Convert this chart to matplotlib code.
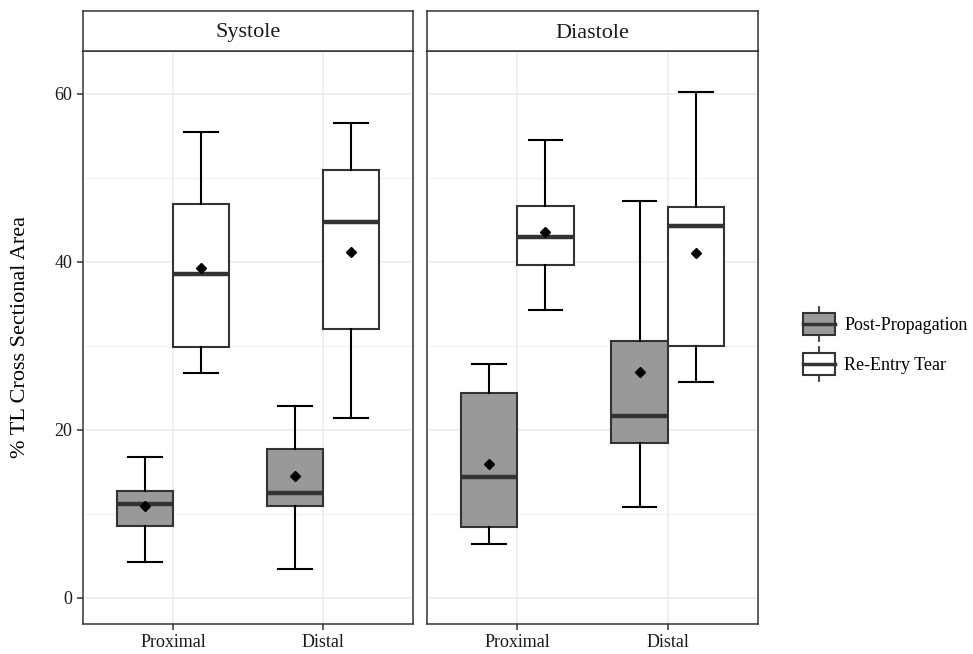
import matplotlib.pyplot as plt
from matplotlib.patches import Rectangle
from matplotlib.lines import Line2D
from matplotlib.legend_handler import HandlerBase

plt.rcParams['font.family'] = ['Liberation Serif', 'DejaVu Serif']

# данные
phases = ['Systole', 'Diastole']
locations = ['Proximal', 'Distal']
groups = ['Post-Propagation', 'Re-Entry Tear']
fills = ['#999999', '#ffffff']

# порядок: для каждой фазы -> группа -> локация (Proximal, Distal)
whislo = [4.3, 3.4, 26.8, 21.4,   6.4, 10.8, 34.3, 25.7]
q1     = [8.6, 10.95, 29.9, 32.0, 8.45, 18.5, 39.6, 30.0]
med    = [11.2, 12.5, 38.6, 44.7, 14.4, 21.7, 43.0, 44.3]
q3     = [12.7, 17.7, 46.9, 50.9, 24.4, 30.6, 46.7, 46.5]
whishi = [16.75, 22.8, 55.4, 56.5, 27.9, 47.2, 54.5, 60.2]
means  = [10.9, 14.5, 39.25, 41.2, 16.0, 26.9, 43.5, 41.0]

yticks = [0, 20, 40, 60]
yminor = [10, 30, 50]

W, H = 973, 654
edge = '#333333'
grid_c = '#ebebeb'


def fx(px):
    return px / W


def fy(py):
    return 1 - py / H


class BoxKeyHandler(HandlerBase):
    # маленький боксплот в легенде, как у ggplot
    def create_artists(self, legend, orig_handle, xdescent, ydescent,
                       width, height, fontsize, trans):
        x0, y0 = -xdescent, -ydescent
        xc = x0 + width / 2
        wl = Line2D([xc, xc], [y0 - 0.05 * height, y0 + 1.05 * height],
                    color=edge, lw=1.3, transform=trans)
        box = Rectangle((x0, y0 + 0.15 * height), width, 0.7 * height,
                        facecolor=orig_handle.get_facecolor(), edgecolor=edge,
                        lw=1.5, transform=trans)
        ml = Line2D([x0, x0 + width], [y0 + 0.5 * height] * 2,
                    color=edge, lw=2.5, transform=trans)
        return [wl, box, ml]


fig = plt.figure(figsize=(W / 100, H / 100), dpi=100)

panels = [(83, 413), (427, 758)]
top, bottom, strip_top = 51, 624, 11
dodge = 0.1875

axes = []
for p, (xl, xr) in enumerate(panels):
    ax = fig.add_axes([fx(xl), fy(bottom), fx(xr - xl), (bottom - top) / H])
    ax.set_xlim(0.4, 2.6)
    ax.set_ylim(-3.1, 65.1)
    ax.set_yticks(yticks)
    ax.set_yticks(yminor, minor=True)
    ax.set_xticks([1, 2])
    ax.set_xticklabels(locations, fontsize=13)
    ax.grid(True, which='major', color=grid_c, lw=1.1, zorder=0)
    ax.grid(True, which='minor', axis='y', color=grid_c, lw=0.55, zorder=0)
    ax.set_axisbelow(True)
    ax.tick_params(axis='both', which='major', length=4, width=1.1, color=edge,
                   labelsize=13, labelcolor='#1a1a1a')
    ax.tick_params(axis='y', which='minor', length=0)
    for s in ax.spines.values():
        s.set_color(edge)
        s.set_linewidth(1.1)
    if p > 0:
        ax.tick_params(axis='y', which='both', left=False, labelleft=False)

    for g in range(len(groups)):
        stats = []
        pos = []
        for l in range(len(locations)):
            i = p * 4 + g * 2 + l
            stats.append(dict(whislo=whislo[i], q1=q1[i], med=med[i], q3=q3[i],
                              whishi=whishi[i], mean=means[i], fliers=[]))
            pos.append(l + 1 + (g * 2 - 1) * dodge)
        ax.bxp(stats, positions=pos, widths=0.375, capwidths=0.225,
               patch_artist=True, showmeans=True, manage_ticks=False,
               boxprops=dict(facecolor=fills[g], edgecolor=edge, lw=1.5),
               whiskerprops=dict(color='black', lw=1.5),
               capprops=dict(color='black', lw=1.5),
               medianprops=dict(color=edge, lw=3.2),
               meanprops=dict(marker='D', markerfacecolor='black',
                              markeredgecolor='black', markersize=5.5))

    # полоса с названием фазы
    sax = fig.add_axes([fx(xl), fy(top), fx(xr - xl), (top - strip_top) / H])
    sax.set_xticks([])
    sax.set_yticks([])
    for s in sax.spines.values():
        s.set_color(edge)
        s.set_linewidth(1.1)
    sax.text(0.5, 0.45, phases[p], ha='center', va='center', fontsize=16,
             color='#1a1a1a', transform=sax.transAxes)
    axes.append(ax)

fig.text(fx(21), fy((top + bottom) / 2), '% TL Cross Sectional Area',
         rotation=90, ha='center', va='center', fontsize=16, color='black')

handles = [Rectangle((0, 0), 1, 1, facecolor=c) for c in fills]
fig.legend(handles, groups, handler_map={Rectangle: BoxKeyHandler()},
           loc='center left', bbox_to_anchor=(fx(789), fy(344)),
           frameon=False, fontsize=13, handlelength=1.72, handleheight=2.19,
           handletextpad=0.55, labelspacing=0.55, borderpad=0.3)

fig.savefig('out.png', dpi=100)
